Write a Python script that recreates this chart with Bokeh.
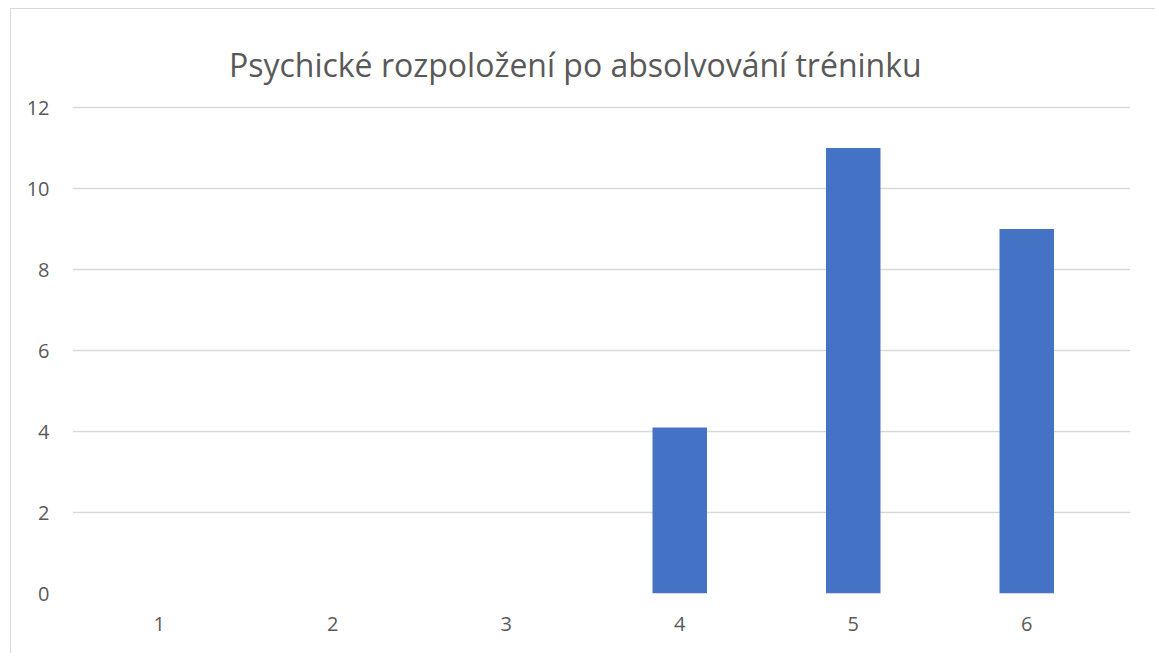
from bokeh.plotting import figure
from bokeh.models import Range1d, FixedTicker, Label
from bokeh.embed import file_html
from bokeh.resources import INLINE

categories = [1, 2, 3, 4, 5, 6]
values = [0, 0, 0, 4.1, 11, 9]
y_ticks = [0, 2, 4, 6, 8, 10, 12]
title_text = "Psychické rozpoložení po absolvování tréninku"

FONT = "Open Sans"
PX = 40.5  # pixels per unit on the y axis

p = figure(width=1145, height=645, output_backend="svg", toolbar_location=None,
           x_range=Range1d(0.5, 0.5 + 1058 / 173.5), y_range=Range1d(0, 584 / PX),
           min_border_left=61, min_border_right=26, min_border_top=0, min_border_bottom=61)
p.margin = (8, 0, 0, 10)
p.styles = {"border-top": "1px solid #d9d9d9", "border-left": "1px solid #d9d9d9"}

title = Label(x=3.398, y=12 + 43 / PX, text=title_text, text_align="center",
              text_baseline="alphabetic", text_font=FONT, text_font_size="32px",
              text_color="#595959")
p.add_layout(title)

p.vbar(x=categories, top=values, width=0.314, fill_color="#4472C4", line_color=None)

p.outline_line_color = None
p.background_fill_color = "white"
p.border_fill_color = "white"

p.xgrid.grid_line_color = None
p.ygrid.grid_line_color = "#d9d9d9"
p.ygrid.grid_line_width = 1.5
p.ygrid.ticker = FixedTicker(ticks=y_ticks)

p.yaxis.ticker = FixedTicker(ticks=y_ticks)
p.xaxis.ticker = FixedTicker(ticks=categories)
for ax in (p.xaxis, p.yaxis):
    ax.axis_line_color = None
    ax.major_tick_line_color = None
    ax.minor_tick_line_color = None
    ax.major_label_text_font = FONT
    ax.major_label_text_font_size = "20px"
    ax.major_label_text_color = "#595959"
p.xaxis.major_label_standoff = 17
p.yaxis.major_label_standoff = 17

open("out.html", "w").write(file_html(p, INLINE))
